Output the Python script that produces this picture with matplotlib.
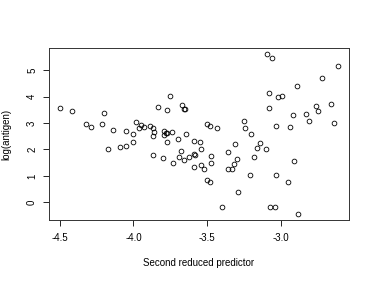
import matplotlib.pyplot as plt

plt.rcParams['font.family'] = ['Liberation Sans', 'DejaVu Sans']

# Points
pred = [-4.50, -4.42, -4.32, -4.29, -4.21, -4.20, -4.17, -4.14, -4.09, -4.05,
        -4.05, -4.00, -4.00, -3.98, -3.96, -3.95, -3.93, -3.89, -3.87, -3.87,
        -3.86, -3.87, -3.83, -3.80, -3.79, -3.79, -3.78, -3.77, -3.77, -3.77,
        -3.75, -3.74, -3.73, -3.70, -3.68, -3.69, -3.67, -3.66, -3.65, -3.66,
        -3.64, -3.62, -3.59, -3.59, -3.59, -3.58, -3.55, -3.54, -3.54, -3.52,
        -3.50, -3.50, -3.48, -3.48, -3.47, -3.47, -3.43, -3.40, -3.36, -3.36,
        -3.33, -3.32, -3.31, -3.30, -3.29, -3.25, -3.24, -3.21, -3.20, -3.18,
        -3.16, -3.14, -3.10, -3.09, -3.06, -3.08, -3.08, -3.07, -3.04, -3.03,
        -3.03, -3.02, -2.99, -2.95, -2.94, -2.92, -2.91, -2.89, -2.88, -2.83,
        -2.81, -2.76, -2.75, -2.72, -2.66, -2.64, -2.61]
log_antigen = [3.58, 3.45, 2.98, 2.86, 2.96, 3.40, 2.02, 2.72, 2.09, 2.15,
               2.70, 2.57, 2.29, 3.04, 2.81, 2.92, 2.85, 2.90, 2.82, 2.52,
               2.68, 1.81, 3.59, 1.66, 2.71, 2.54, 2.64, 2.63, 3.51, 2.30,
               4.03, 2.68, 1.47, 2.38, 1.93, 1.71, 3.69, 3.53, 3.53, 1.60,
               2.59, 1.73, 1.35, 2.33, 1.83, 1.78, 2.28, 1.41, 2.02, 1.26,
               2.96, 0.84, 2.88, 0.78, 1.76, 1.50, 2.80, -0.16, 1.90, 1.26,
               1.26, 1.44, 2.19, 1.64, 0.38, 3.07, 2.80, 1.05, 2.59, 1.70,
               2.05, 2.23, 2.03, 5.60, 5.48, 4.14, 3.58, -0.16, -0.16, 2.90,
               1.05, 3.99, 4.01, 0.77, 2.86, 3.29, 1.56, 4.40, -0.43, 3.35,
               3.06, 3.64, 3.46, 4.69, 3.73, 3.01, 5.15]

xticks = [-4.5, -4.0, -3.5, -3.0]
yticks = [0, 1, 2, 3, 4, 5]

fig = plt.figure(figsize=(3.74, 2.81), dpi=100)
ax = fig.add_axes([0.130, 0.217, 0.804, 0.612])

ax.plot(pred, log_antigen, linestyle='none', marker='o', markersize=3.4,
        markerfacecolor='none', markeredgecolor='black', markeredgewidth=0.6)
ax.margins(x=0.04, y=0.04)

ax.set_xticks(xticks)
ax.set_xticklabels([f'{t:.1f}' for t in xticks])
ax.set_yticks(yticks)
ax.set_yticklabels([str(t) for t in yticks], rotation=90, va='center')

ax.tick_params(direction='out', length=4.3, width=0.6, labelsize=7)
ax.tick_params(axis='x', pad=5)
ax.tick_params(axis='y', pad=4)
for s in ax.spines.values():
    s.set_linewidth(0.7)
    s.set_color('#333333')

ax.set_xlabel('Second reduced predictor', fontsize=7, labelpad=11)
ax.set_ylabel('log(antigen)', fontsize=7, labelpad=11)

plt.savefig('out.png', dpi=100)
